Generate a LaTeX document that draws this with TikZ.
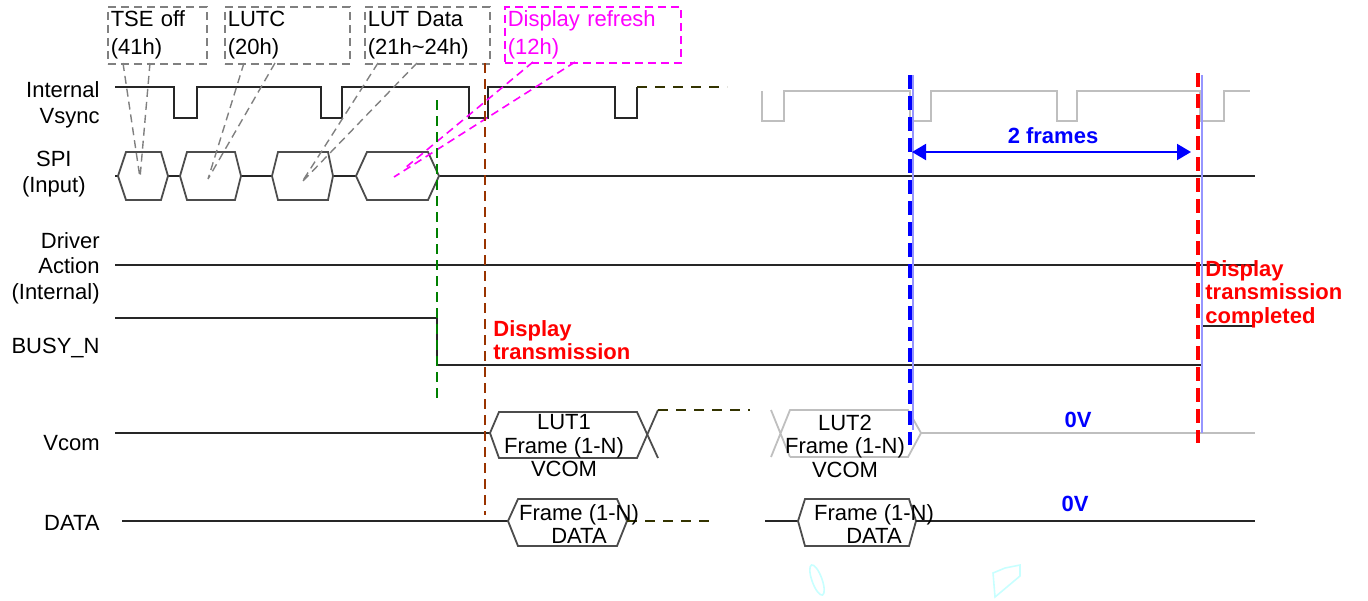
\documentclass[tikz,border=0pt]{standalone}
\usepackage{fontspec}
\setmainfont{Liberation Sans}
\usetikzlibrary{arrows.meta,calc}
\definecolor{mag}{RGB}{255,0,255}
\definecolor{brn}{RGB}{153,51,0}
\definecolor{grn}{RGB}{0,128,0}
\definecolor{olv}{RGB}{51,51,0}
\definecolor{lblue}{RGB}{150,150,255}
\definecolor{faint}{RGB}{200,255,255}
\begin{document}
\begin{tikzpicture}[x=0.5pt,y=-0.5pt,
  font=\fontsize{11}{12.75}\selectfont,
  wave/.style={line width=0.9pt, black!85},
  hexw/.style={line width=0.9pt, black!70, line join=miter},
  graywave/.style={line width=0.9pt, black!25},
  lbl/.style={anchor=east, inner sep=0pt, align=right},
  gbox/.style={draw=black!50, dash pattern=on 4pt off 2.5pt, line width=0.8pt, anchor=north west,
     inner xsep=1.5pt, inner ysep=0pt, align=left, font=\fontsize{11}{14}\selectfont},
  gline/.style={draw=black!50, dash pattern=on 4pt off 2.5pt, line width=0.7pt},
  mline/.style={draw=mag, dash pattern=on 4pt off 2.5pt, line width=0.8pt},
  busdash/.style={draw=olv, dash pattern=on 5pt off 4pt, line width=0.9pt},
  redtxt/.style={text=red, font=\bfseries\fontsize{11}{11.75}\selectfont, align=left, inner sep=0pt},
  bluetxt/.style={text=blue, font=\bfseries\fontsize{11}{12}\selectfont, inner sep=0pt},
  hextxt/.style={align=center, inner sep=0pt, font=\fontsize{11}{11.75}\selectfont}
]
\useasboundingbox (0,0) rectangle (1368,600);

% ---- left labels
\node[lbl] (lvs) at (100,105) {Internal\\Vsync};
\node[anchor=east, inner sep=0pt, align=center] (lspi) at (86,174) {SPI\\(Input)};
\node[lbl] (ldrv) at (100,268) {Driver\\Action\\(Internal)};
\node[lbl] (lbusy) at (100,348) {BUSY\_N};
\node[lbl] (lvcom) at (100,443) {Vcom};
\node[lbl] (ldata) at (100,523) {DATA};

% ---- annotation boxes
\node[gbox, text width=46.5pt, minimum height=28.5pt] (tse) at (107,6) {TSE off\\(41h)};
\node[gbox, text width=59.5pt, minimum height=28.5pt] (lutc) at (224,6) {LUTC\\(20h)};
\node[gbox, text width=59.5pt, minimum height=28.5pt] (lutd) at (364,6) {LUT Data\\(21h\textasciitilde 24h)};
\node[gbox, draw=mag, text=mag, text width=85pt, minimum height=28pt] (dref) at (504,6) {Display refresh\\(12h)};

% ---- Internal Vsync
\draw[wave] (115,87) -- (174,87) -- (174,118) -- (197,118) -- (197,87) -- (321,87) -- (321,118) -- (342,118)
  -- (342,87) -- (469,87) -- (469,118) -- (488,118) -- (488,87) -- (615,87) -- (615,118) -- (637,118) -- (637,87);
\coordinate (vsend) at (637,87);
\coordinate (vsdash) at (727,87);
\draw[busdash] (vsend) -- (vsdash);
\draw[graywave] (762,91) -- (762,121) -- (784,121) -- (784,91) -- (910,91) -- (910,121) -- (931,121) -- (931,91)
  -- (1057,91) -- (1057,121) -- (1077,121) -- (1077,91) -- (1200,91) -- (1200,121) -- (1224,121) -- (1224,91) -- (1250,91);

% ---- SPI
\draw[wave] (115,176) -- (118,176) (168,176) -- (180,176) (241,176) -- (272,176) (333,176) -- (356,176) (439,176) -- (1255,176);
\draw[hexw] (118,176) -- (126,152) -- (161,152) -- (168,176) -- (161,200) -- (126,200) -- cycle;
\draw[hexw] (180,176) -- (187,152) -- (235,152) -- (241,176) -- (235,200) -- (187,200) -- cycle;
\draw[hexw] (272,176) -- (278,152) -- (328,152) -- (333,176) -- (328,200) -- (278,200) -- cycle;
\draw[hexw] (356,176) -- (367,152) -- (428,152) -- (439,176) -- (428,200) -- (367,200) -- cycle;

% ---- connectors from boxes
\coordinate (tseA) at (123,63); \coordinate (tseB) at (150,63); \coordinate (tseP) at (140,178);
\coordinate (lutcA) at (244,63); \coordinate (lutcB) at (275,63); \coordinate (lutcP) at (208,179);
\coordinate (lutdA) at (378,63); \coordinate (lutdB) at (417,63); \coordinate (lutdP) at (302,182);
\coordinate (drA) at (533,62); \coordinate (drB) at (575,62); \coordinate (drP) at (405,168); \coordinate (drQ) at (394,177);
\draw[gline] (tseA) -- (tseP) (tseB) -- (tseP);
\draw[gline] (lutcA) -- (lutcP) (lutcB) -- (lutcP);
\draw[gline] (lutdA) -- (lutdP) (lutdB) -- (lutdP);
\draw[mline] (drA) -- (drP) (drB) -- (drQ);

% ---- Driver action
\draw[wave] (115,265) -- (1255,265);

% ---- BUSY_N
\draw[wave] (115,318) -- (437,318) -- (437,365) -- (1202,365);
\draw[wave] (1202,373) -- (1202,326) -- (1255,326);

% ---- Vcom
\draw[wave] (115,433) -- (490,433);
\draw[hexw] (490,433) -- (499,412) -- (637,412) -- (658,458);
\draw[hexw] (658,410) -- (637,458) -- (499,458) -- (490,433);
\coordinate (vcA) at (658,410); \coordinate (vcB) at (750,410);
\draw[busdash] (vcA) -- (vcB);
\draw[graywave] (771,410) -- (790,457) (771,457) -- (790,410) -- (908,410) -- (921,433) -- (908,457) -- (790,457);
\draw[graywave] (921,433) -- (1255,433);
\node[hextxt] (lut1) at (564,446) {LUT1\\Frame (1-N)\\VCOM};
\node[hextxt] (lut2) at (845,446) {LUT2\\Frame (1-N)\\VCOM};

% ---- DATA
\draw[wave] (122,521) -- (508,521);
\draw[hexw] (508,521) -- (518,499) -- (617,499) -- (627,521) -- (617,546) -- (518,546) -- cycle;
\coordinate (dA) at (627,521); \coordinate (dB) at (710,521);
\draw[busdash] (dA) -- (dB);
\draw[wave] (765,521) -- (798,521);
\draw[hexw] (798,521) -- (805,499) -- (909,499) -- (916,521) -- (909,546) -- (805,546) -- cycle;
\draw[wave] (916,521) -- (1255,521);
\node[hextxt] (dat1) at (579,524) {Frame (1-N)\\DATA\hspace{14pt}};
\node[hextxt] (dat2) at (874,524) {Frame (1-N)\\DATA\hspace{20pt}};

% ---- vertical markers
\draw[lblue, line width=0.8pt] (913,75) -- (913,430);
\draw[lblue, line width=0.8pt] (1202,75) -- (1202,433);
\draw[grn, line width=1pt, dash pattern=on 5pt off 3pt] (437,100) -- (437,403);
\draw[brn, line width=1pt, dash pattern=on 5pt off 3pt] (485,63) -- (485,515);
\draw[blue, line width=1.6pt, dash pattern=on 7pt off 3.5pt] (910,75) -- (910,445);
\draw[red, line width=1.6pt, dash pattern=on 7pt off 3.5pt] (1198,73) -- (1198,443);

% ---- 2 frames
\coordinate (frL) at (912,152); \coordinate (frR) at (1191,152);
\draw[blue, line width=1pt, {Triangle[length=7pt,width=8pt]}-{Triangle[length=7pt,width=8pt]}] (frL) -- (frR);
\node[bluetxt] (twof) at (1053,136) {2 frames};

% ---- red / blue texts
\node[redtxt, anchor=west] (dtx) at (493,340) {Display\\transmission};
\node[redtxt, anchor=west] (dtc) at (1205,294) {Display\\transmission\\completed};
\node[bluetxt] (zv1) at (1078,420) {0V};
\node[bluetxt] (zv2) at (1075,504) {0V};

% ---- faint marks
\draw[faint, line width=0.8pt, rotate around={20:(817,580)}] (817,580) ellipse (5 and 16);
\draw[faint, line width=0.8pt] (993,573) -- (995,597) -- (1020,576) -- (1020,565) -- (1005,568) -- cycle;
\end{tikzpicture}
\end{document}
